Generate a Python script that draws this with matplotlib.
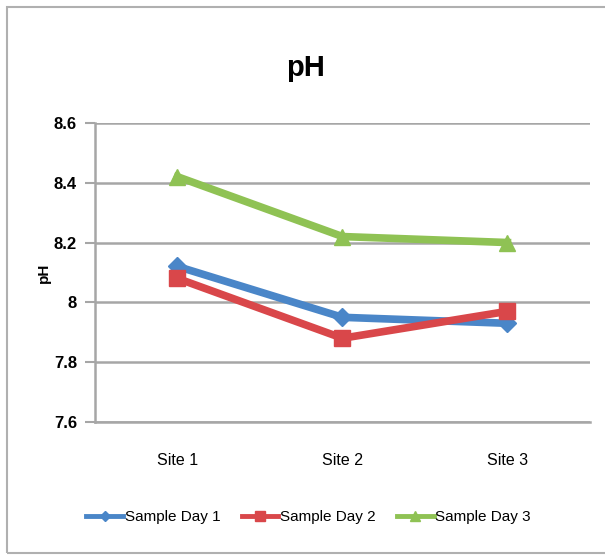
import matplotlib.pyplot as plt
from matplotlib.patches import Rectangle
from matplotlib.lines import Line2D

# pH readings per site for each sampling day
sites = ["Site 1", "Site 2", "Site 3"]
day1 = [8.12, 7.95, 7.93]
day2 = [8.08, 7.88, 7.97]
day3 = [8.42, 8.22, 8.20]
series_names = ["Sample Day 1", "Sample Day 2", "Sample Day 3"]
yticks = [7.6, 7.8, 8.0, 8.2, 8.4, 8.6]
ytick_labels = ["7.6", "7.8", "8", "8.2", "8.4", "8.6"]

plt.rcParams['font.family'] = ['Liberation Sans', 'DejaVu Sans']

fig = plt.figure(figsize=(6.05, 5.56), dpi=100)
fig.patches.append(Rectangle((7 / 605, 3 / 556), 1.0, 546 / 556, transform=fig.transFigure,
                             fill=False, edgecolor="#b0b0b0", linewidth=1.5))
ax = fig.add_axes([0.157, 0.241, 0.818, 0.538])

styles = [
    dict(color="#4a86c8", marker="D", markersize=9),
    dict(color="#d9474a", marker="s", markersize=12),
    dict(color="#8fc254", marker="^", markersize=12),
]
x = range(len(sites))
handles = []
for vals, name, st in zip([day1, day2, day3], series_names, styles):
    ax.plot(x, vals, color=st["color"], linewidth=5.5, marker=st["marker"],
            markersize=st["markersize"], markerfacecolor=st["color"],
            markeredgecolor=st["color"], solid_joinstyle="miter")
    handles.append(Line2D([], [], color=st["color"], linewidth=3.5, marker=st["marker"],
                          markersize=st["markersize"] * 0.6, label=name))

ax.set_xlim(-0.5, 2.5)
ax.set_ylim(7.6, 8.6)
ax.set_xticks(list(x))
ax.set_xticklabels(sites, fontsize=11.5)
ax.set_yticks(yticks)
ax.set_yticklabels(ytick_labels, fontsize=12, fontweight="bold")
ax.tick_params(axis="x", length=0, pad=22)
ax.tick_params(axis="y", length=7, width=1.5, color="#a6a6a6", pad=6)
ax.grid(axis="y", color="#a6a6a6", linewidth=1.8)
ax.set_axisbelow(True)
for side in ["top", "right"]:
    ax.spines[side].set_visible(False)
for side in ["left", "bottom"]:
    ax.spines[side].set_color("#a6a6a6")
    ax.spines[side].set_linewidth(1.8)

ax.set_ylabel("pH", fontsize=11, fontweight="bold", labelpad=2)
fig.text(0.505, 0.878, "pH", ha="center", va="center", fontsize=21, fontweight="bold")

fig.legend(handles=handles, loc="center", bbox_to_anchor=(0.51, 0.07), ncol=3, frameon=False,
           fontsize=11, handlelength=2.4, handletextpad=0.1, columnspacing=1.4)

fig.savefig("out.png", dpi=100)
